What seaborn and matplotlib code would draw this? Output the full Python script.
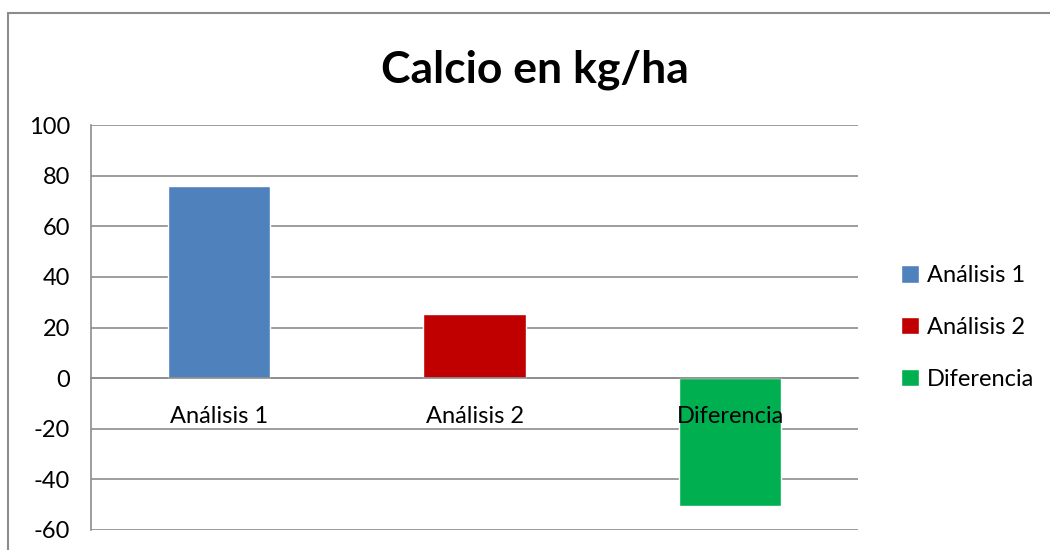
import matplotlib
matplotlib.use("Agg")
import matplotlib.pyplot as plt
from matplotlib.patches import Rectangle
import seaborn as sns
import pandas as pd

# datos del grafico
categorias = ["Análisis 1", "Análisis 2", "Diferencia"]
valores = [76, 25.5, -50.5]
colores = ["#4F81BD", "#C00000", "#00B050"]
ticks_y = [-60, -40, -20, 0, 20, 40, 60, 80, 100]

sns.set_style("white")
plt.rcParams["font.family"] = ["Lato", "DejaVu Sans"]
plt.rcParams["text.color"] = "black"
plt.rcParams["xtick.color"] = "black"
plt.rcParams["ytick.color"] = "black"

df = pd.DataFrame({"categoria": categorias, "valor": valores})

fig = plt.figure(figsize=(10.5, 5.5), dpi=100)
ax = fig.add_axes([91 / 1050, 20 / 550, (858 - 91) / 1050, (530 - 125) / 550])

sns.barplot(data=df, x="categoria", y="valor", hue="categoria",
            palette=colores, width=0.4, dodge=False, saturation=1,
            legend=True, ax=ax)

ax.set_ylim(-60, 100)
ax.set_xlim(-0.5, 2.5)
ax.set_yticks(ticks_y)
ax.set_yticklabels([str(t) for t in ticks_y], fontsize=17)
ax.yaxis.grid(True, color="#8c8c8c", linewidth=1.2)
ax.set_axisbelow(True)
ax.set_xlabel("")
ax.set_ylabel("")

# eje x en cero con marcas entre categorias
ax.spines["bottom"].set_position(("data", 0))
ax.spines["bottom"].set_color("#8c8c8c")
ax.spines["bottom"].set_linewidth(1.2)
ax.spines["left"].set_color("#8c8c8c")
ax.spines["left"].set_linewidth(1.2)
ax.spines["top"].set_visible(False)
ax.spines["right"].set_visible(False)
ax.set_xticks([-0.5, 0.5, 1.5, 2.5])
ax.set_xticklabels([])
ax.set_xticks([0, 1, 2], minor=True)
ax.set_xticklabels(categorias, minor=True, fontsize=17)
ax.tick_params(axis="x", which="major", direction="out", length=5, color="#8c8c8c", width=1.2)
ax.tick_params(axis="x", which="minor", length=0, pad=20)
ax.tick_params(axis="y", direction="out", length=9, color="#8c8c8c", width=1.2, pad=6)
ax.xaxis.set_zorder(5)

fig.suptitle("Calcio en kg/ha", fontsize=32, fontweight="bold", x=535 / 1050, y=1 - 70 / 550, va="center")

leg = ax.legend(loc="center left", bbox_to_anchor=((901 - 91) / 767, 0.5), frameon=False,
                fontsize=17, handlelength=0.75, handleheight=0.75, handletextpad=0.35,
                labelspacing=1.3, borderpad=0, borderaxespad=0)

# marco del grafico
fig.patches.append(Rectangle((8 / 1050, -0.1), 1.2, 1.1 - 13 / 550, transform=fig.transFigure,
                             fill=False, edgecolor="#8c8c8c", linewidth=1.5))

fig.savefig("out.png", dpi=100)
